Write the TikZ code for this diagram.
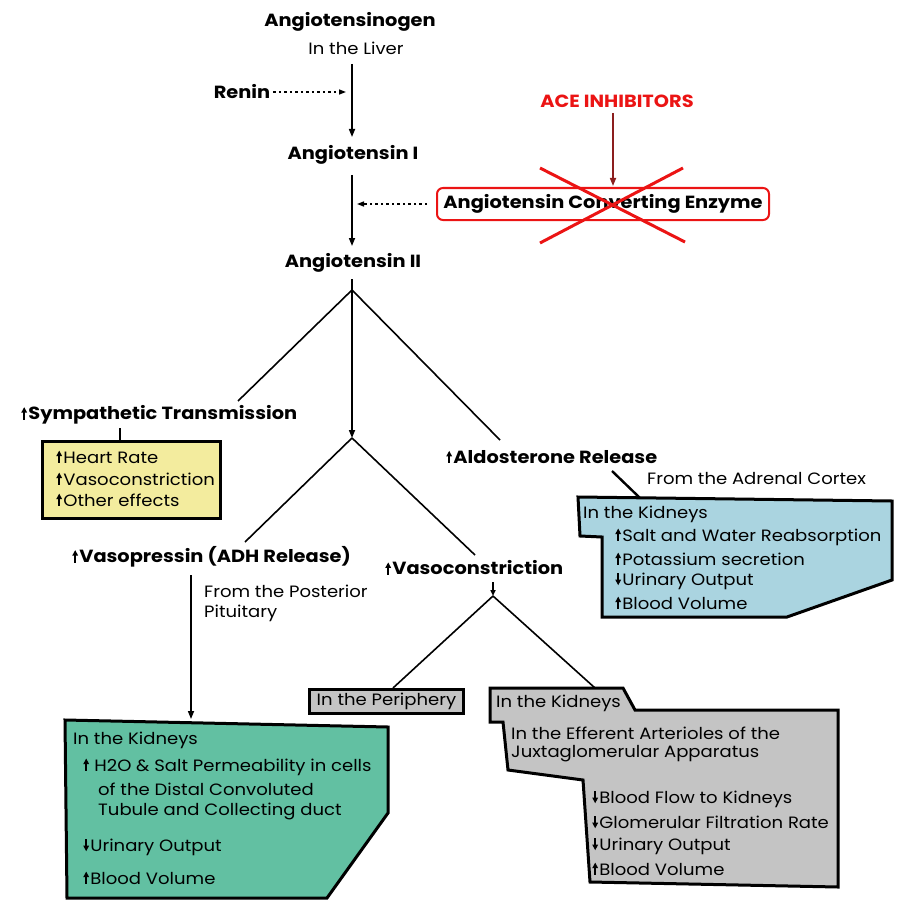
\documentclass[tikz,border=0pt]{standalone}
\usepackage{fontspec}
\setmainfont{Poppins}[FakeStretch=1.1]
\usetikzlibrary{arrows.meta}
\newcommand{\myup}{\tikz[x=1pt,y=1pt,baseline=0pt]{\fill[black] (-0.9,0) rectangle (0.9,8); \fill[black] (-3,7) -- (3,7) -- (0,12.5) -- cycle;}\hspace{1.2pt}}
\newcommand{\mydn}{\tikz[x=1pt,y=1pt,baseline=0pt]{\fill[black] (-0.9,4.5) rectangle (0.9,12.5); \fill[black] (-3,5.5) -- (3,5.5) -- (0,0) -- cycle;}\hspace{1.2pt}}
\definecolor{aceRed}{RGB}{235,20,20}
\definecolor{inhArrow}{RGB}{140,30,30}
\definecolor{yellowFill}{RGB}{243,236,158}
\definecolor{blueFill}{RGB}{170,212,224}
\definecolor{greenFill}{RGB}{98,192,162}
\definecolor{grayFill}{RGB}{196,196,196}
\begin{document}
\begin{tikzpicture}[x=1pt,y=-1pt,
  title/.style={font=\bfseries\fontsize{17.6}{20}\selectfont, inner sep=0pt},
  sub/.style={font=\fontsize{16.4}{19}\selectfont, inner sep=0pt},
  item/.style={font=\fontsize{16.4}{19}\selectfont, inner sep=0pt, anchor=west},
  conn/.style={line width=1.6pt},
  arr/.style={conn, -{Triangle[length=8pt,width=6pt]}},
  dotarr/.style={line width=1.3pt, dash pattern=on 2.5pt off 3pt, -{Triangle[length=7pt,width=5pt]}},
  box/.style={line width=3pt, draw=black, line join=miter}]
\useasboundingbox (0,0) rectangle (904,920);

% main chain
\node[title] (agen) at (350,22) {Angiotensinogen};
\node[sub] (liver) at (356,48) {In the Liver};
\node[title] (renin) at (242,92) {Renin};
\node[title] (ang1) at (353,155) {Angiotensin I};
\node[title] (ang2) at (353,263) {Angiotensin II};

\coordinate (a1s) at (352,64);
\coordinate (a1e) at (352,137);
\coordinate (a2s) at (352,175);
\coordinate (a2e) at (352,246);
\coordinate (rhit) at (346,92);
\coordinate (ahit) at (357,204);

\draw[arr] (a1s) -- (a1e);
\draw[dotarr] ([xshift=3pt]renin.east) -- (rhit);
\draw[arr] (a2s) -- (a2e);

% ACE
\node[title, text=aceRed] (inh) at (617,101) {ACE INHIBITORS};
\node[title, draw=aceRed, line width=2pt, rounded corners=6pt,
      minimum width=332pt, minimum height=32pt] (ace) at (603,204) {Angiotensin Converting Enzyme};
\draw[dotarr] ([xshift=-9pt]ace.west) -- (ahit);
\coordinate (inhS) at (613,113);
\coordinate (inhE) at (613,186);
\draw[line width=1.6pt, draw=inhArrow, -{Triangle[length=8pt,width=6pt]}] (inhS) -- (inhE);
\coordinate (x1) at (540,168);
\coordinate (x2) at (685,242);
\coordinate (x3) at (683,168);
\coordinate (x4) at (540,243);
\draw[line width=3pt, aceRed] (x1) -- (x2);
\draw[line width=3pt, aceRed] (x3) -- (x4);

% first branching
\coordinate (j0) at (352,290);
\coordinate (ang2b) at (352,279);
\coordinate (j1) at (352,438);
\coordinate (symEnd) at (238,401);
\coordinate (aldEnd) at (500,440);
\draw[arr] (ang2b) -- (j1);
\draw[conn] (j0) -- (symEnd);
\draw[conn] (j0) -- (aldEnd);

% sympathetic
\node[title, anchor=west] (symp) at (21,415) {\myup Sympathetic Transmission};
\draw[box, fill=yellowFill] (42,441) rectangle (220,518);
\coordinate (yTop) at (120,441);
\draw[line width=2.4pt] (120,428) -- (yTop);
\node[item] (hr) at (56,457) {\myup Heart Rate};
\node[item] (vc1) at (56,479) {\myup Vasoconstriction};
\node[item] (oe) at (56,500) {\myup Other effects};

% aldosterone
\node[title, anchor=west] (ald) at (446,457) {\myup Aldosterone Release};
\node[item] (adr) at (647,479) {From the Adrenal Cortex};
\draw[box, fill=blueFill] (578,497) -- (892,501) -- (892,580) -- (787,617) -- (602,617) -- (602,537) -- (580,536) -- cycle;
\coordinate (bTop) at (640,498);
\draw[line width=2.4pt] (612,471) -- (bTop);
\node[item] (bk) at (583,514) {In the Kidneys};
\node[item] (b1) at (615,537) {\myup Salt and Water Reabsorption};
\node[item] (b2) at (615,559) {\myup Potassium secretion};
\node[item] (b3) at (615,581) {\mydn Urinary Output};
\node[item] (b4) at (615,603) {\myup Blood Volume};

% second branching
\coordinate (vpEnd) at (245,542);
\coordinate (vcEnd) at (475,555);
\draw[conn] (j1) -- (vpEnd);
\draw[conn] (j1) -- (vcEnd);

% vasopressin
\node[title, anchor=west] (vp) at (72,557) {\myup Vasopressin (ADH Release)};
\node[item] (pp1) at (204,591) {From the Posterior};
\node[item] (pp2) at (204,613) {Pituitary};
\coordinate (vpA) at (191,575);
\coordinate (gTop) at (191,719);
\draw[arr] (vpA) -- (gTop);

\draw[box, fill=greenFill] (65,720) -- (388,727) -- (388,813) -- (327,898) -- (67,898) -- cycle;
\node[item] (gk) at (73,740) {In the Kidneys};
\node[item] (g1) at (83,767) {\myup\hspace{4pt}H2O \& Salt Permeability in cells};
\node[item] (g2) at (98,789) {of the Distal Convoluted};
\node[item] (g3) at (98,811) {Tubule and Collecting duct};
\node[item] (g4) at (83,847) {\mydn Urinary Output};
\node[item] (g5) at (83,878) {\myup Blood Volume};

% vasoconstriction
\node[title, anchor=west] (vc) at (385,568) {\myup Vasoconstriction};
\coordinate (vcA) at (493,582);
\coordinate (j2) at (493,596);
\draw[line width=1.6pt, -{Triangle[length=6pt,width=5pt]}] (vcA) -- (j2);
\node[item, draw=black, line width=3pt, fill=grayFill, minimum width=154pt, minimum height=24pt, inner xsep=4pt, anchor=north west] (peri) at (308,688) {In the Periphery};
\coordinate (kTop) at (595,688);
\draw[conn] (j2) -- (peri.north -| 393,0);
\draw[conn] (j2) -- (kTop);

\draw[box, fill=grayFill] (490,688) -- (623,688) -- (635,710) -- (838,710) -- (838,887) -- (590,882) -- (583,780) -- (508,770) -- (503,722) -- (490,722) -- cycle;
\node[item] (kk) at (496,703) {In the Kidneys};
\node[item] (k1) at (511,733) {In the Efferent Arterioles of the};
\node[item] (k2) at (511,754) {Juxtaglomerular Apparatus};
\node[item] (k3) at (592,799) {\mydn Blood Flow to Kidneys};
\node[item] (k4) at (592,822) {\mydn Glomerular Filtration Rate};
\node[item] (k5) at (592,846) {\mydn Urinary Output};
\node[item] (k6) at (592,869) {\myup Blood Volume};
\end{tikzpicture}
\end{document}
